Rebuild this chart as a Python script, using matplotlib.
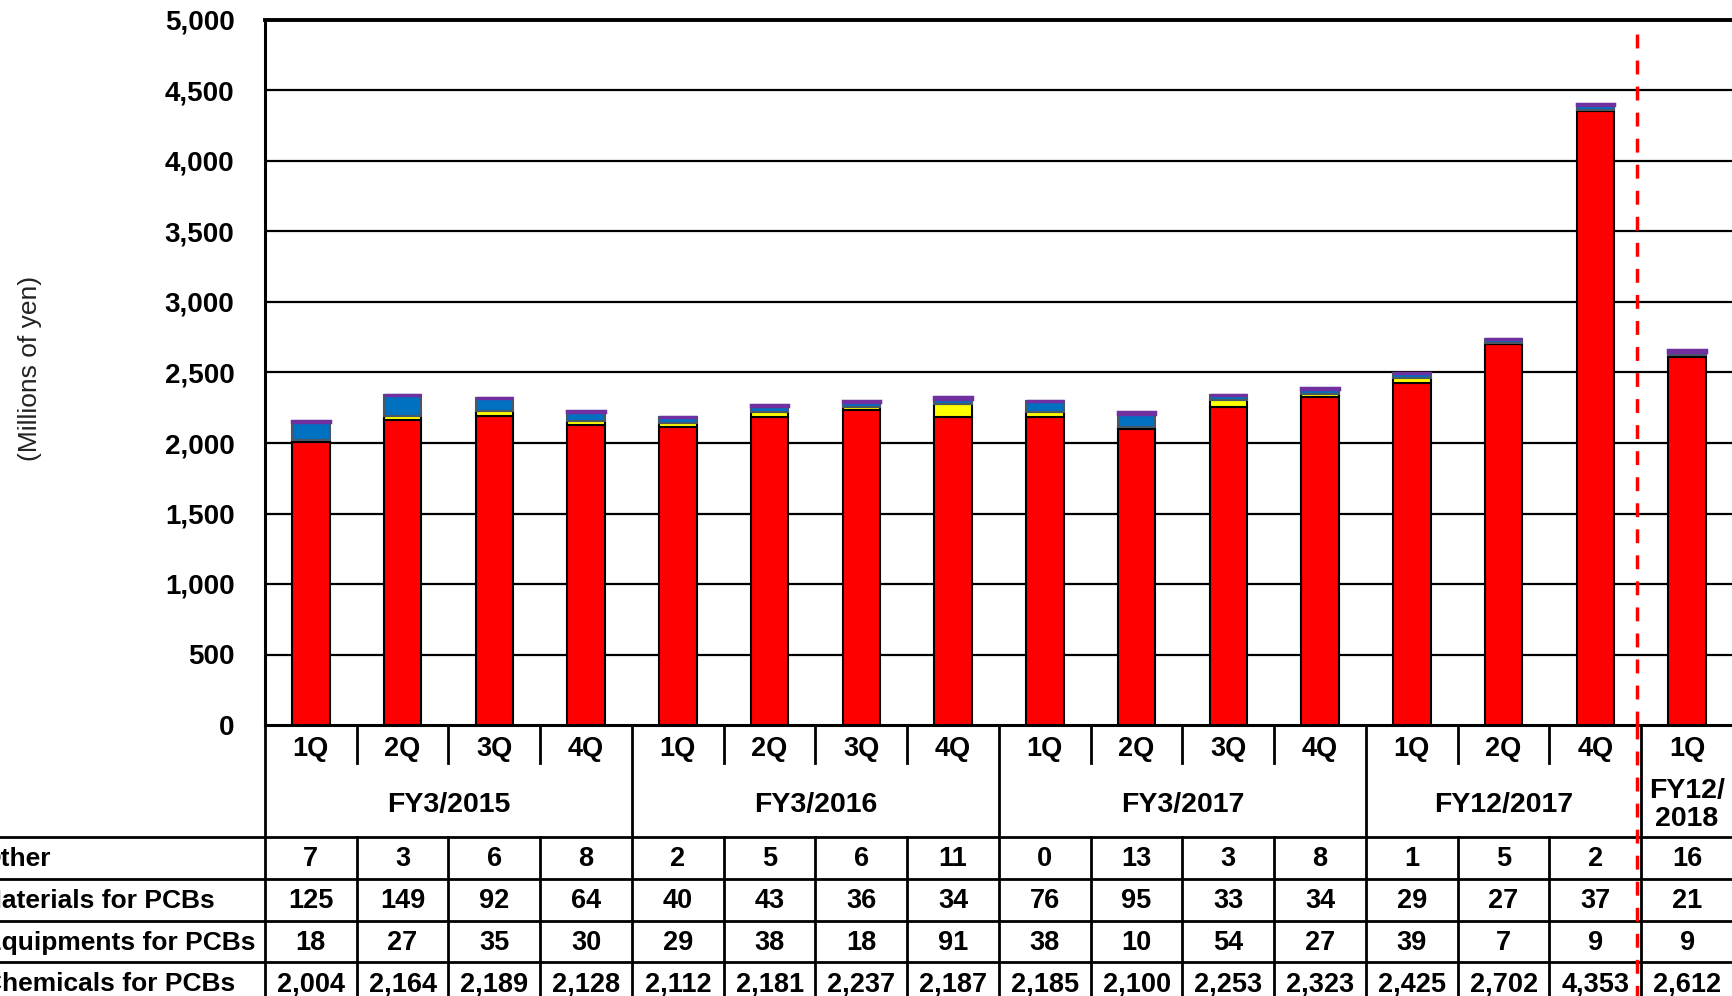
import matplotlib

matplotlib.use("Agg")
import matplotlib.pyplot as plt
import numpy as np
from matplotlib.font_manager import FontProperties

plt.rcParams["font.family"] = ["Liberation Sans", "DejaVu Sans"]

# --- data ---
quarters = ["1Q", "2Q", "3Q", "4Q", "1Q", "2Q", "3Q", "4Q",
            "1Q", "2Q", "3Q", "4Q", "1Q", "2Q", "4Q", "1Q"]
fiscal_years = ["FY3/2015", "FY3/2016", "FY3/2017", "FY12/2017", "FY12/\n2018"]
fy_spans = [4, 4, 4, 3, 1]
row_labels = ["Other", "Materials for PCBs", "Equipments for PCBs", "Chemicals for PCBs"]
other = [7, 3, 6, 8, 2, 5, 6, 11, 0, 13, 3, 8, 1, 5, 2, 16]
materials = [125, 149, 92, 64, 40, 43, 36, 34, 76, 95, 33, 34, 29, 27, 37, 21]
equipments = [18, 27, 35, 30, 29, 38, 18, 91, 38, 10, 54, 27, 39, 7, 9, 9]
chemicals = [2004, 2164, 2189, 2128, 2112, 2181, 2237, 2187,
             2185, 2100, 2253, 2323, 2425, 2702, 4353, 2612]
y_ticks = [0, 500, 1000, 1500, 2000, 2500, 3000, 3500, 4000, 4500, 5000]

W, H = 1733, 996
fig = plt.figure(figsize=(W / 100, H / 100), dpi=100)

# plot area in pixels
left_px, right_px, top_px, bot_px = 265, 1733, 20, 725
col_w = (right_px - left_px) / len(quarters)
ax = fig.add_axes([left_px / W, 1 - bot_px / H, (right_px - left_px) / W, (bot_px - top_px) / H])

n = len(quarters)
x = np.arange(n)
bw = 0.41
b1 = np.array(chemicals)
b2 = b1 + np.array(equipments)
b3 = b2 + np.array(materials)
ax.bar(x, chemicals, bw, color="#FF0000", edgecolor="black", linewidth=1.5, zorder=3)
ax.bar(x, equipments, bw, bottom=b1, color="#FFFF00", edgecolor="black", linewidth=1.5, zorder=3)
ax.bar(x, materials, bw, bottom=b2, color="#0070C0", edgecolor="#4a5866", linewidth=1.5, zorder=3)
ax.bar(x, other, bw, bottom=b3, color="#7030A0", edgecolor="#7030A0", linewidth=2.5, zorder=3)

ax.set_xlim(-0.5, n - 0.5)
ax.set_ylim(0, 5000)
ax.set_yticks(y_ticks)
ax.set_yticklabels([f"{v:,}" for v in y_ticks], fontsize=20, fontweight="bold")
ax.tick_params(axis="y", length=0, pad=22)
ax.set_xticks([])
for v in y_ticks[1:-1]:
    ax.axhline(v, color="black", linewidth=1.6, zorder=1)
ax.spines["top"].set_linewidth(2.8)
ax.spines["left"].set_linewidth(2.2)
ax.spines["bottom"].set_linewidth(2.2)
ax.spines["right"].set_color("#888888")
ax.spines["right"].set_linewidth(1.0)

fig.text(30 / W, 1 - 368 / H, "(Millions of yen)", rotation=90, ha="center", va="center",
         fontsize=19, color="#222222")

# --- table under the plot (y in pixel rows, x in bar units) ---
tax = fig.add_axes([left_px / W, 0, (right_px - left_px) / W, (H - bot_px) / H])
tax.set_xlim(-0.5, n - 0.5)
tax.set_ylim(H, bot_px)
tax.axis("off")

q_bot, fy_bot = 763, 837
row_edges = [837, 879, 921, 962, 1004]
x_fig_left = -0.5 - left_px / col_w

line_kw = dict(color="black", linewidth=2.0, clip_on=False)
edges = np.arange(n + 1) - 0.5
group_edges = np.concatenate([[0], np.cumsum(fy_spans)]) - 0.5
for e in edges:
    if e in group_edges:
        tax.plot([e, e], [bot_px, fy_bot], **line_kw)
    else:
        tax.plot([e, e], [bot_px, q_bot], **line_kw)
    tax.plot([e, e], [fy_bot, H], **line_kw)
for r in row_edges[:-1]:
    tax.plot([x_fig_left, n - 0.5], [r, r], **line_kw)

for i, q in enumerate(quarters):
    tax.text(i, 749, q, ha="center", va="center", fontsize=19.5, fontweight="bold")
for k, fy in enumerate(fiscal_years):
    cx = (group_edges[k] + group_edges[k + 1]) / 2
    tax.text(cx, 805, fy, ha="center", va="center", fontsize=20.5, fontweight="bold",
             linespacing=1.12)

# row labels: the first letter falls just left of the picture, as in the source
renderer = fig.canvas.get_renderer()
prop = FontProperties(family="Liberation Sans", weight="bold", size=19)
rows = [other, materials, equipments, chemicals]
for r, (lab, vals) in enumerate(zip(row_labels, rows)):
    cy = (row_edges[r] + row_edges[r + 1]) / 2 + 1
    w0 = renderer.get_text_width_height_descent(lab[0], prop, ismath=False)[0]
    label_x = x_fig_left - (w0 - 2) / col_w
    tax.text(label_x, cy, lab, ha="left", va="center", fontproperties=prop, clip_on=False)
    for i, v in enumerate(vals):
        tax.text(i, cy, f"{v:,}", ha="center", va="center", fontsize=19.5, fontweight="bold")

# red dashed separator between FY12/2017 and FY12/2018
sep_x = n - 1.55
ax.plot([sep_x, sep_x], [0, 4970], color="red", linewidth=2.5, linestyle=(0, (4, 3.5)),
        zorder=4, clip_on=False)
tax.plot([sep_x, sep_x], [bot_px, H], color="red", linewidth=2.5, linestyle=(0, (4, 3.5)),
         zorder=4, clip_on=False)

fig.savefig("out.png", dpi=100)
